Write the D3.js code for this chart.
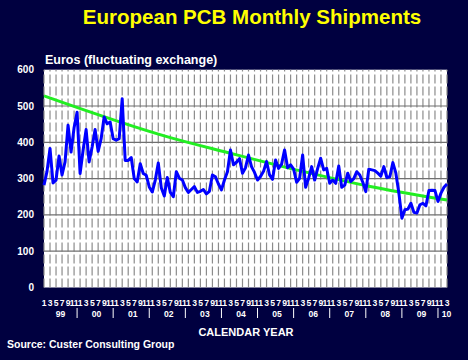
<!DOCTYPE html>
<html><head><meta charset="utf-8">
<script src="https://cdn.jsdelivr.net/npm/d3@7"></script>
<style>
html,body{margin:0;padding:0;background:#000040;}
svg{display:block;font-family:"Liberation Sans",Arial,sans-serif;font-weight:bold;}
</style></head>
<body>
<svg id="c" width="468" height="360"></svg>
<script>
// Monthly shipments, Jan 1999 .. Mar 2010 (Euros, millions)
const shipments = [
 282,320,383,288,296,362,310,346,447,373,440,483,   // 1999
 314,378,435,346,387,435,375,410,470,451,456,410,   // 2000
 406,410,520,350,350,358,300,291,341,314,309,277,   // 2001
 263,296,343,275,252,303,262,250,319,301,296,275,   // 2002
 262,270,278,262,265,270,258,265,310,305,285,269,   // 2003
 296,319,379,338,345,355,315,330,365,333,317,296,   // 2004
 306,320,347,310,298,351,328,340,379,330,338,326,   // 2005
 290,301,365,276,301,333,296,328,356,324,328,287,   // 2006
 296,287,335,276,282,315,292,300,319,310,290,264,   // 2007
 326,324,322,315,307,333,303,305,344,315,260,191,   // 2008
 214,216,232,207,205,228,232,225,267,268,267,237,   // 2009
 260,276,285                                        // 2010
];
const years = ["99","00","01","02","03","04","05","06","07","08","09","10"];
const monthTickLabels = ["1","3","5","7","9","11"];
const yTicks = [0,100,200,300,400,500,600];
// trend line points (month index, value)
const trendMonths = [0,42,61,85,108,134];
const trendValues = [528,413,372,322,279,241];

const svg = d3.select("#c");
const L=44, R=447, T=69.7, B=287.5;
const x = d3.scaleLinear().domain([0, shipments.length-1]).range([L,R]);
const y = d3.scaleLinear().domain([0,600]).range([B,T]);

svg.append("rect").attr("width",468).attr("height",360).attr("fill","#000040");
svg.append("rect").attr("x",L).attr("y",T).attr("width",R-L).attr("height",B-T).attr("fill","#ffffff");

// vertical dashed gridlines every two months
const vIdx = d3.range(0, shipments.length, 2);
svg.append("g").selectAll("line").data(vIdx).join("line")
  .attr("x1",d=>x(d)).attr("x2",d=>x(d)).attr("y1",B).attr("y2",T)
  .attr("stroke","#8c8c8c").attr("stroke-width",1.2).attr("stroke-dasharray","9,3");

// horizontal gridlines
svg.append("g").selectAll("line").data(yTicks.filter(v=>v>0&&v<600)).join("line")
  .attr("x1",L).attr("x2",R).attr("y1",d=>y(d)).attr("y2",d=>y(d))
  .attr("stroke","#707070").attr("stroke-width",1.2);

// y labels
svg.append("g").selectAll("text").data(yTicks).join("text")
  .attr("x",34).attr("y",d=>y(d)+3.5).attr("text-anchor","end")
  .attr("fill","#fff").attr("font-size",10).text(d=>d);

// trend line
const trendPts = trendMonths.map((m,k)=>[m,trendValues[k]]);
svg.append("path").datum(trendPts)
  .attr("d",d3.line().x(d=>x(d[0])).y(d=>y(d[1])).curve(d3.curveMonotoneX))
  .attr("fill","none").attr("stroke","#22ee22").attr("stroke-width",3);

// data line
svg.append("path").datum(shipments)
  .attr("d",d3.line().x((d,i)=>x(i)).y(d=>y(d)))
  .attr("fill","none").attr("stroke","#0000ff").attr("stroke-width",3).attr("stroke-linejoin","round");

// month labels
const mIdx = d3.range(0, shipments.length, 2);
svg.append("g").selectAll("text").data(mIdx).join("text")
  .attr("x",d=>x(d)).attr("y",306).attr("text-anchor","middle")
  .attr("fill","#fff").attr("font-size",8.6).attr("letter-spacing",-0.3)
  .text(d=>monthTickLabels[(d%12)/2]);

// year labels + separators
years.forEach((yr,k)=>{
  const start=k*12, end=Math.min(k*12+11, shipments.length-1);
  const cx = k<years.length-1 ? x((start+end)/2) : x(start)+5.5;
  svg.append("text").attr("x",cx).attr("y",317).attr("text-anchor","middle")
    .attr("fill","#fff").attr("font-size",8.6).text(yr);
  if(k<years.length-1){
    svg.append("line").attr("x1",x(k*12+11)).attr("x2",x(k*12+11))
      .attr("y1",308).attr("y2",318).attr("stroke","#fff").attr("stroke-width",1);
  }
});

svg.append("text").attr("x",252).attr("y",24).attr("text-anchor","middle")
  .attr("fill","#ffff00").attr("font-size",20.5).text("European PCB Monthly Shipments");
svg.append("text").attr("x",45).attr("y",64)
  .attr("fill","#fff").attr("font-size",12.5).text("Euros (fluctuating exchange)");
svg.append("text").attr("x",246).attr("y",336).attr("text-anchor","middle")
  .attr("fill","#fff").attr("font-size",11).text("CALENDAR YEAR");
svg.append("text").attr("x",7).attr("y",348)
  .attr("fill","#fff").attr("font-size",10.5).text("Source: Custer Consulting Group");
</script>
</body></html>
